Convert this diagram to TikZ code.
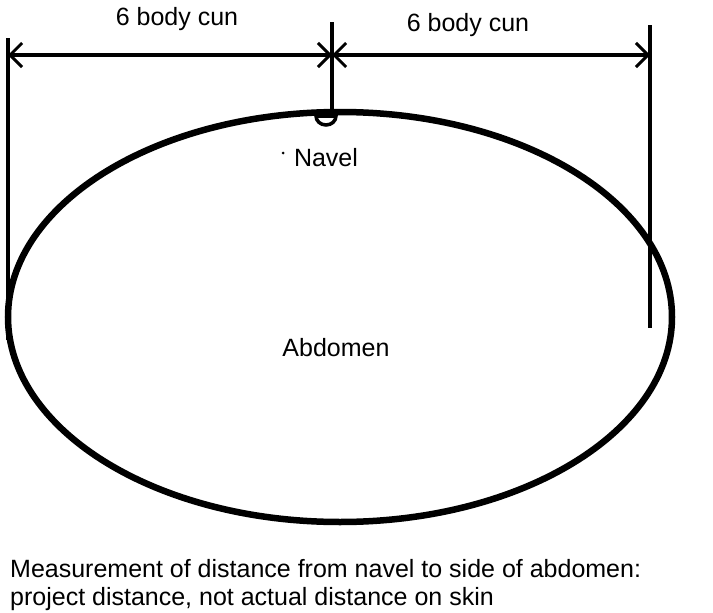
\documentclass[tikz,border=0pt]{standalone}
\usepackage{fontspec}
\setmainfont{Liberation Sans}
\usetikzlibrary{arrows.meta}
\begin{document}
\begin{tikzpicture}[x=1pt,y=-1pt,
  vline/.style={line width=3.5pt},
  dim/.style={line width=3.5pt,{Straight Barb[length=12pt,width=24pt,line width=3pt]}-{Straight Barb[length=12pt,width=24pt,line width=3pt]}},
  lbl/.style={font=\fontsize{25}{28}\selectfont,inner sep=0pt}]
\useasboundingbox (0,0) rectangle (713,613);
\draw[line width=6.5pt] (340,317) ellipse [x radius=332, y radius=205];
\coordinate (L1) at (8,38); \coordinate (L2) at (8,340);
\coordinate (M1) at (332,22); \coordinate (M2) at (332,118);
\coordinate (R1) at (650,25); \coordinate (R2) at (650,328);
\draw[vline] (L1) -- (L2);
\draw[vline] (M1) -- (M2);
\draw[vline] (R1) -- (R2);
\coordinate (al) at (8,55); \coordinate (am) at (332,55); \coordinate (ar) at (650,55);
\draw[dim] (al) -- (am);
\draw[dim] (am) -- (ar);
\draw[line width=3.5pt] (316,116) arc[start angle=180,end angle=0,x radius=10,y radius=9] -- cycle;
\node[lbl] (c1) at (177,19) {6 body cun};
\node[lbl] (c2) at (468,25) {6 body cun};
\fill (283,153) circle (1.5pt);
\node[lbl] (nav) at (326,158) {Navel};
\node[lbl] (abd) at (336,348) {Abdomen};
\node[lbl,anchor=west,align=left] (cap) at (10,585) {Measurement of distance from navel to side of abdomen:\\project distance, not actual distance on skin};
\end{tikzpicture}
\end{document}
